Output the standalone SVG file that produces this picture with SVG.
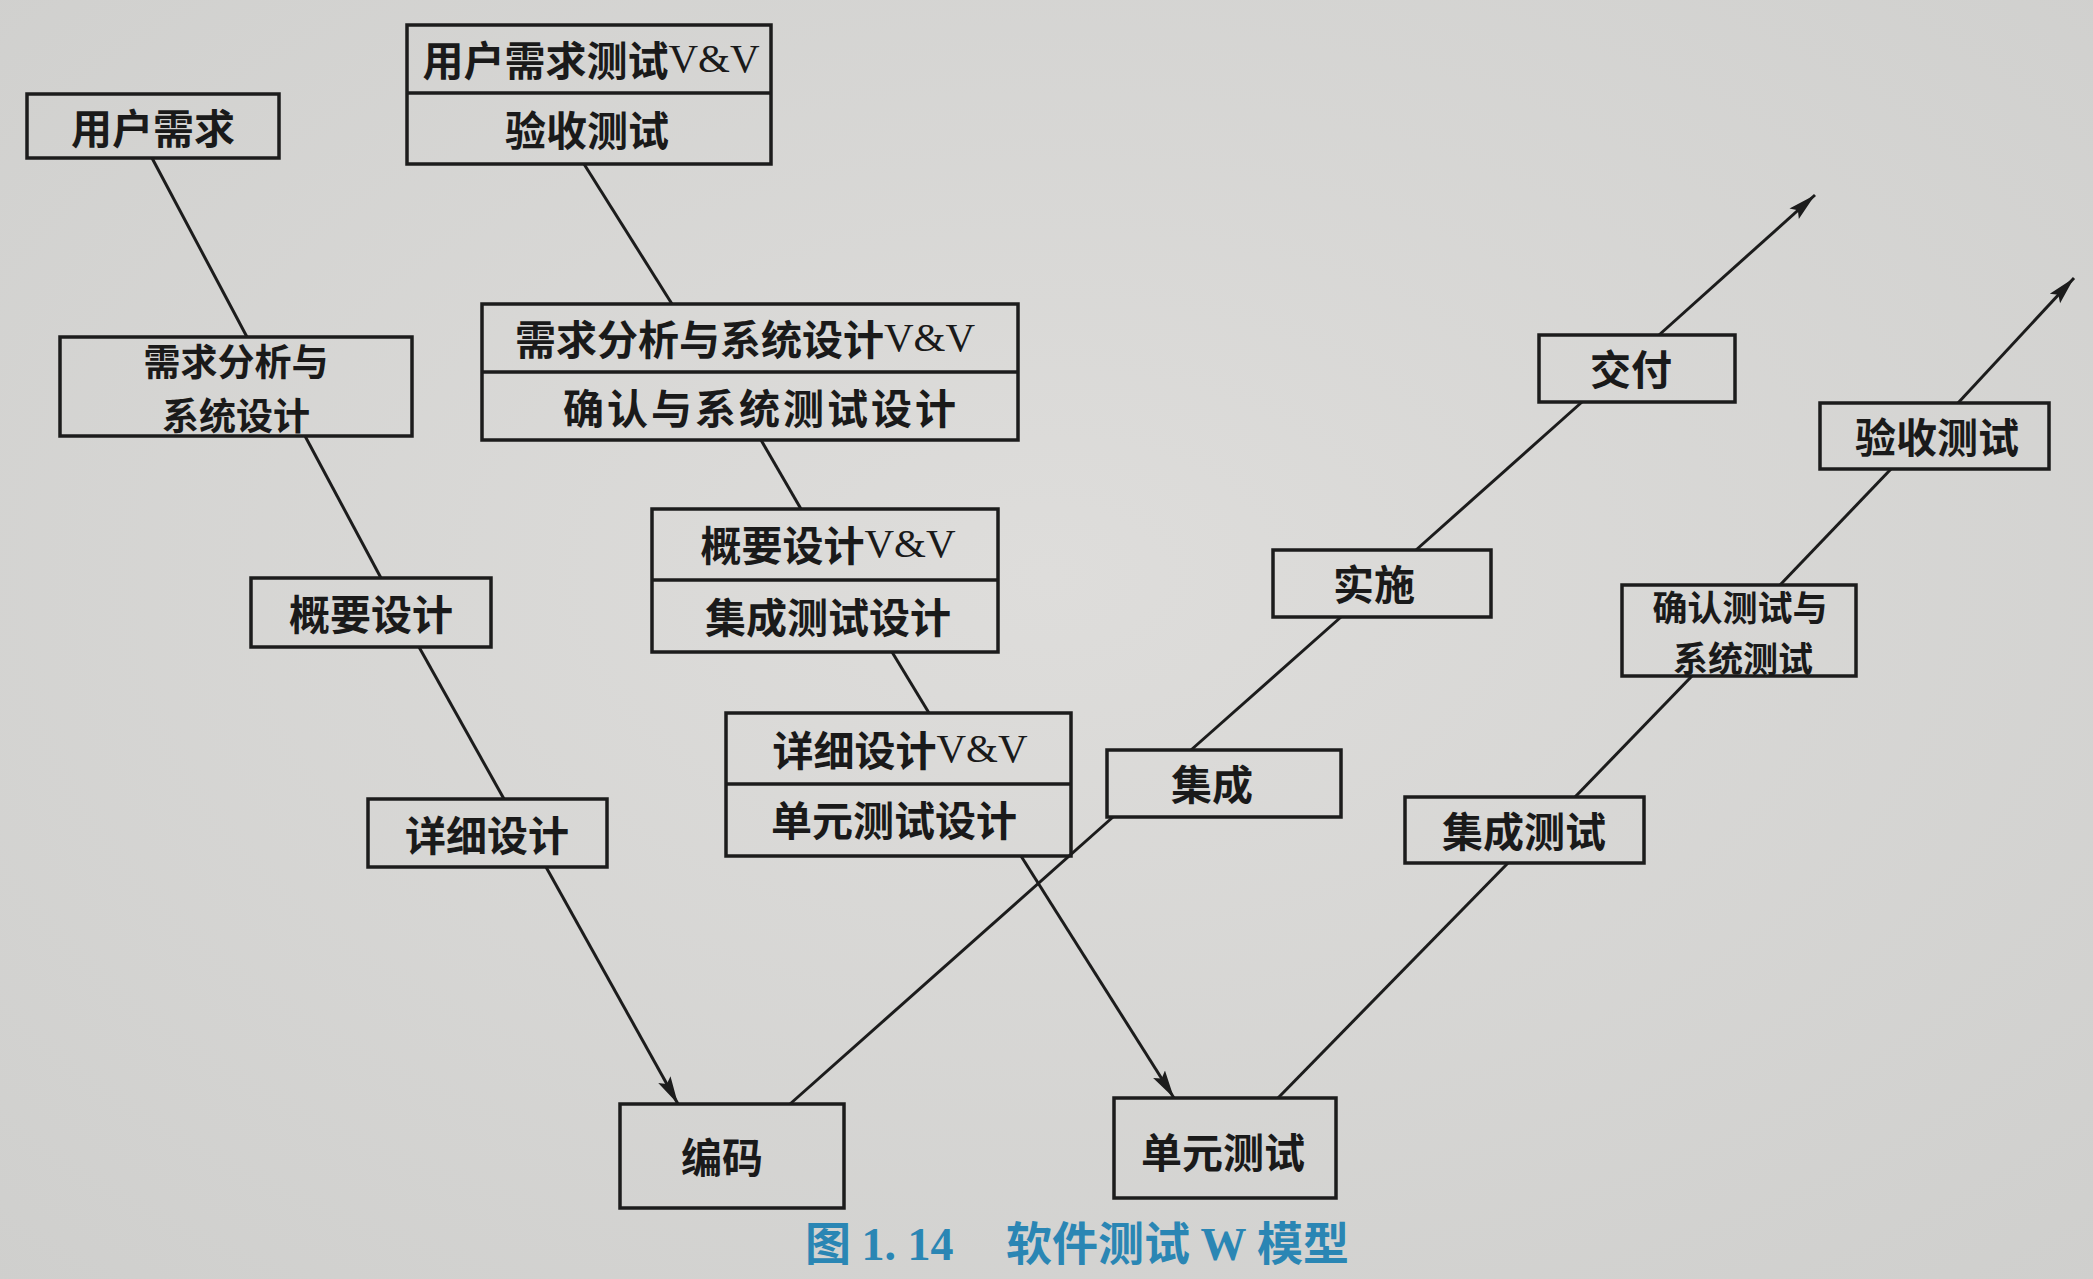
<svg xmlns="http://www.w3.org/2000/svg" width="2093" height="1279" viewBox="0 0 2093 1279">
<defs>
<style>
.box{fill:none;stroke:#1c1c1c;stroke-width:3.5}
.div{stroke:#1c1c1c;stroke-width:3.5}
.t{font-family:"Noto Sans CJK SC","Noto Sans CJK JP",sans-serif;font-size:41px;font-weight:700;fill:#1a1a1a;text-anchor:middle;dominant-baseline:central}
.s{font-family:"Liberation Serif",serif;font-weight:400}
.ln{stroke:#1c1c1c;stroke-width:3;fill:none}
.cap{font-family:"Noto Sans CJK SC",sans-serif;font-size:46px;font-weight:700;fill:#2a86b4}
.capn{font-family:"Liberation Serif",serif;font-weight:700}
</style>
<marker id="arr" markerUnits="userSpaceOnUse" markerWidth="30" markerHeight="20" refX="28" refY="9" orient="auto">
<path d="M0,2 L28,9 L0,16 L5,9 Z" fill="#1c1c1c"/>
</marker>
<radialGradient id="bg" cx="0.5" cy="0.45" r="0.75">
<stop offset="0" stop-color="#dedddb"/>
<stop offset="1" stop-color="#cfcfcd"/>
</radialGradient>
</defs>
<rect x="0" y="0" width="2093" height="1279" fill="url(#bg)"/>

<g id="connectors">
<line class="ln" x1="152" y1="158" x2="247" y2="337"/>
<line class="ln" x1="305" y1="436" x2="381" y2="578"/>
<line class="ln" x1="419" y1="647" x2="504" y2="799"/>
<line class="ln" x1="546" y1="867" x2="678" y2="1104" marker-end="url(#arr)"/>
<line class="ln" x1="584" y1="164" x2="672" y2="304"/>
<line class="ln" x1="761" y1="440" x2="801" y2="509"/>
<line class="ln" x1="892" y1="652" x2="929" y2="713"/>
<line class="ln" x1="1021" y1="856" x2="1174" y2="1098" marker-end="url(#arr)"/>
<line class="ln" x1="790" y1="1104" x2="1113" y2="817"/>
<line class="ln" x1="1191" y1="750" x2="1341" y2="617"/>
<line class="ln" x1="1416" y1="550" x2="1582" y2="402"/>
<line class="ln" x1="1659" y1="335" x2="1815" y2="195" marker-end="url(#arr)"/>
<line class="ln" x1="1278" y1="1098" x2="1508" y2="863"/>
<line class="ln" x1="1575" y1="797" x2="1692" y2="676"/>
<line class="ln" x1="1780" y1="585" x2="1891" y2="469"/>
<line class="ln" x1="1958" y1="403" x2="2074" y2="278" marker-end="url(#arr)"/>
</g>

<g id="n-yhxq">
<rect class="box" x="27" y="94" width="252" height="64"/>
<text class="t" x="153" y="126">用户需求</text>
</g>
<g id="n-xqfx">
<rect class="box" x="60" y="337" width="352" height="99"/>
<text class="t" x="236" y="359.5" style="font-size:37px">需求分析与</text>
<text class="t" x="236" y="413.5" style="font-size:37px">系统设计</text>
</g>
<g id="n-gysj">
<rect class="box" x="251" y="578" width="240" height="69"/>
<text class="t" x="371" y="612">概要设计</text>
</g>
<g id="n-xxsj">
<rect class="box" x="368" y="799" width="239" height="68"/>
<text class="t" x="487" y="833">详细设计</text>
</g>
<g id="n-bm">
<rect class="box" x="620" y="1104" width="224" height="104"/>
<text class="t" x="722" y="1155">编码</text>
</g>

<g id="n-yhvv">
<rect class="box" x="407" y="25" width="364" height="139"/>
<line class="div" x1="407" y1="93" x2="771" y2="93"/>
<text class="t" x="591" y="58">用户需求测试<tspan class="s">V&amp;V</tspan></text>
<text class="t" x="587" y="128">验收测试</text>
</g>
<g id="n-xqvv">
<rect class="box" x="482" y="304" width="536" height="136"/>
<line class="div" x1="482" y1="372" x2="1018" y2="372"/>
<text class="t" x="745" y="337">需求分析与系统设计<tspan class="s">V&amp;V</tspan></text>
<text class="t" x="761" y="406" letter-spacing="3">确认与系统测试设计</text>
</g>
<g id="n-gyvv">
<rect class="box" x="652" y="509" width="346" height="143"/>
<line class="div" x1="652" y1="580" x2="998" y2="580"/>
<text class="t" x="828" y="543">概要设计<tspan class="s">V&amp;V</tspan></text>
<text class="t" x="828" y="615">集成测试设计</text>
</g>
<g id="n-xxvv">
<rect class="box" x="726" y="713" width="345" height="143"/>
<line class="div" x1="726" y1="784" x2="1071" y2="784"/>
<text class="t" x="900" y="748">详细设计<tspan class="s">V&amp;V</tspan></text>
<text class="t" x="894" y="818">单元测试设计</text>
</g>

<g id="n-dycs">
<rect class="box" x="1114" y="1098" width="222" height="100"/>
<text class="t" x="1223" y="1150">单元测试</text>
</g>
<g id="n-jc">
<rect class="box" x="1107" y="750" width="234" height="67"/>
<text class="t" x="1212" y="782">集成</text>
</g>
<g id="n-ss">
<rect class="box" x="1273" y="550" width="218" height="67"/>
<text class="t" x="1374" y="582">实施</text>
</g>
<g id="n-jf">
<rect class="box" x="1539" y="335" width="196" height="67"/>
<text class="t" x="1631" y="367">交付</text>
</g>
<g id="n-jccs">
<rect class="box" x="1405" y="797" width="239" height="66"/>
<text class="t" x="1524" y="829">集成测试</text>
</g>
<g id="n-qrcs">
<rect class="box" x="1622" y="585" width="234" height="91"/>
<text class="t" x="1740" y="605" style="font-size:35px">确认测试与</text>
<text class="t" x="1743" y="656.5" style="font-size:35px">系统测试</text>
</g>
<g id="n-yscs">
<rect class="box" x="1820" y="403" width="229" height="66"/>
<text class="t" x="1937" y="435">验收测试</text>
</g>

<text class="cap" x="805" y="1260">图 <tspan class="capn">1. 14</tspan><tspan x="1006">软件测试 </tspan><tspan class="capn">W</tspan> 模型</text>
</svg>
